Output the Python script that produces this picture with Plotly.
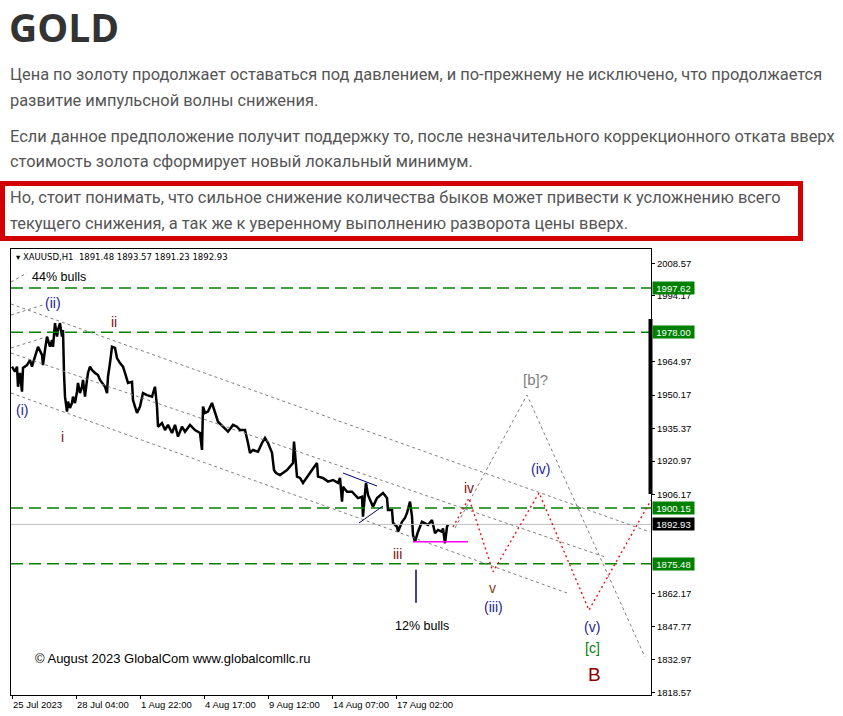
import plotly.graph_objects as go

# ---------------- data ----------------
bar_idx = [1, 4, 6, 7, 9, 11, 12, 16, 19, 21, 22, 26, 27, 31, 32, 34, 36, 37, 39, 41,
           42, 44, 46, 47, 49, 51, 52, 53, 54, 56, 57, 59, 61, 62, 64, 66, 67, 69, 71, 72,
           74, 76, 77, 79, 81, 84, 87, 89, 91, 94, 96, 97, 99, 101, 104, 106, 109, 112, 114, 117,
           121, 122, 124, 126, 129, 132, 136, 141, 144, 146, 147, 151, 154, 157, 161, 164, 167, 171, 174, 179,
           184, 189, 191, 192, 194, 197, 201, 204, 207, 212, 217, 222, 226, 229, 234, 237, 239, 242, 247, 251,
           254, 257, 261, 263, 265, 269, 276, 282, 283, 286, 289, 292, 296, 301, 306, 307, 312, 317, 322, 327,
           329, 331, 332, 336, 341, 347, 351, 352, 354, 355, 357, 362, 366, 372, 376, 377, 381, 382, 386, 387,
           391, 394, 396, 399, 401, 402, 404, 407, 411, 414, 417, 421, 422, 424, 427, 431, 432, 434, 436, 437]
close = [1962.8, 1960.6, 1962.8, 1953.9, 1960.0, 1951.7, 1962.2, 1963.5, 1965.7, 1962.8,
         1964.4, 1970.2, 1971.6, 1968.0, 1963.5, 1970.2, 1976.1, 1974.6, 1971.6, 1974.6,
         1971.6, 1982.1, 1976.1, 1979.0, 1982.1, 1976.1, 1979.0, 1960.0, 1949.5, 1942.9,
         1947.3, 1944.5, 1946.7, 1949.5, 1946.7, 1951.7, 1955.6, 1951.1, 1953.9, 1956.9,
         1949.5, 1956.9, 1960.0, 1962.8, 1961.3, 1960.0, 1959.1, 1956.9, 1955.6, 1953.9,
         1951.1, 1958.4, 1964.4, 1971.6, 1971.1, 1966.6, 1964.4, 1962.8, 1960.0, 1955.6,
         1956.1, 1948.0, 1945.1, 1942.3, 1945.1, 1951.1, 1950.2, 1949.5, 1953.9, 1945.1,
         1936.2, 1937.8, 1934.7, 1937.0, 1933.4, 1937.0, 1931.8, 1936.2, 1934.0, 1937.0,
         1934.7, 1933.4, 1925.9, 1945.1, 1942.3, 1942.9, 1946.7, 1942.3, 1938.4, 1936.2,
         1934.0, 1937.0, 1936.2, 1934.7, 1934.7, 1929.0, 1924.6, 1925.9, 1925.1, 1929.0,
         1931.2, 1929.0, 1924.6, 1917.0, 1915.7, 1914.8, 1917.0, 1920.1, 1929.6, 1914.1,
         1913.5, 1911.3, 1914.1, 1917.0, 1920.1, 1914.1, 1913.5, 1911.9, 1912.6, 1911.3,
         1913.5, 1903.0, 1909.6, 1907.4, 1907.4, 1904.6, 1905.2, 1896.4, 1906.8, 1911.3,
         1906.0, 1900.8, 1904.6, 1906.8, 1904.6, 1899.3, 1899.3, 1893.6, 1891.9, 1889.7,
         1894.1, 1895.8, 1898.0, 1903.0, 1896.4, 1888.2, 1885.3, 1889.7, 1894.1, 1893.4,
         1892.7, 1894.9, 1892.7, 1889.0, 1890.5, 1889.7, 1891.2, 1884.6, 1891.9, 1892.93]

# forecast paths
red_x = [442, 458, 482, 528, 578, 640]
red_y = [1891.8, 1904.6, 1871.9, 1906.9, 1855.0, 1903.7]
gray_x = [444, 516, 634]
gray_y = [1891.3, 1950.2, 1834.2]

# channel / fan lines: (x0, y0, x1, y1)
channel_lines = [
    (0, 1990.55, 639, 1889.57),
    (0, 1968.84, 594, 1878.50),
    (0, 1951.13, 556, 1862.56),
    (0, 1971.06, 32, 1975.50),
    (0, 1985.67, 32, 1990.10),
    (0, 2000.29, 16, 2004.27),
]
navy_lines = [
    (332, 1915.70, 366, 1909.94),
    (348, 1893.56, 372, 1901.08),
]
magenta_seg = (402, 457, 1885.2)
navy_vline = (405, 1872.8, 1858.2)

levels = [1997.62, 1978.00, 1900.15, 1875.48]
last_price = 1892.93

y_ticks = [2008.57, 1994.17, 1964.97, 1950.17, 1935.37, 1920.97, 1906.17,
           1862.17, 1847.77, 1832.97, 1818.57]
x_tickvals = [1, 65, 129, 193, 257, 321, 385]
x_ticktext = ["25 Jul 2023", "28 Jul 04:00", "1 Aug 22:00", "4 Aug 17:00",
              "9 Aug 12:00", "14 Aug 07:00", "17 Aug 02:00"]

# wave labels: (text, x, y, color, size)
wave_labels = [
    ("(ii)", 42, 1990.99, "#1a2396", 14),
    ("ii", 103, 1982.57, "#7f1010", 14),
    ("(i)", 11, 1943.6, "#1a2396", 14),
    ("i", 51, 1931.64, "#7f1010", 14),
    ("iii", 386, 1879.83, "#7f1010", 14),
    ("iv", 458, 1909.06, "#7f1010", 14),
    ("v", 481, 1864.77, "#8b3a10", 14),
    ("(iii)", 482, 1856.36, "#1a2396", 14),
    ("(iv)", 529, 1917.47, "#1a2396", 14),
    ("(v)", 581, 1847.5, "#1a2396", 14),
    ("[c]", 581, 1838.2, "#008000", 14),
    ("B", 583, 1826.24, "#8b0000", 19),
    ("[b]?", 524, 1956.89, "#808080", 15),
    ("44% bulls", 48, 2002.5, "#000000", 12.5),
    ("12% bulls", 411, 1847.94, "#000000", 12.5),
]

title = "GOLD"
paragraphs = [
    "Цена по золоту продолжает оставаться под давлением, и по-прежнему не исключено, что продолжается",
    "развитие импульсной волны снижения.",
    "Если данное предположение получит поддержку то, после незначительного коррекционного отката вверх",
    "стоимость золота сформирует новый локальный минимум.",
    "Но, стоит понимать, что сильное снижение количества быков может привести к усложнению всего",
    "текущего снижения, а так же к уверенному выполнению разворота цены вверх.",
]
para_y = [74, 100, 136, 161, 197, 223]

# ---------------- layout geometry ----------------
W, H = 843, 716
PL, PR, PT, PB = 11, 651, 249, 695
X_RANGE = [0, 640]
Y_RANGE = [1817.38, 2014.90]


def pp(x, y):
    return (x - PL) / (PR - PL), (PB - y) / (PB - PT)


fig = go.Figure()

# price
fig.add_trace(go.Scatter(x=bar_idx, y=close, mode="lines",
                         line=dict(color="black", width=2.5), hoverinfo="skip"))

# levels
for lv in levels:
    fig.add_trace(go.Scatter(x=X_RANGE, y=[lv, lv], mode="lines",
                             line=dict(color="#008000", width=1.5, dash="12px,6px"), hoverinfo="skip"))
fig.add_trace(go.Scatter(x=X_RANGE, y=[last_price, last_price], mode="lines",
                         line=dict(color="#c0c0c0", width=1), hoverinfo="skip"))

for (x0, y0, x1, y1) in channel_lines:
    fig.add_trace(go.Scatter(x=[x0, x1], y=[y0, y1], mode="lines",
                             line=dict(color="#808080", width=1, dash="3px,3px"), hoverinfo="skip"))
for (x0, y0, x1, y1) in navy_lines:
    fig.add_trace(go.Scatter(x=[x0, x1], y=[y0, y1], mode="lines",
                             line=dict(color="#000080", width=1), hoverinfo="skip"))

fig.add_trace(go.Scatter(x=[magenta_seg[0], magenta_seg[1]], y=[magenta_seg[2]] * 2, mode="lines",
                         line=dict(color="#ff00ff", width=1.5), hoverinfo="skip"))
fig.add_trace(go.Scatter(x=[navy_vline[0]] * 2, y=[navy_vline[1], navy_vline[2]], mode="lines",
                         line=dict(color="#000080", width=1.5), hoverinfo="skip"))

fig.add_trace(go.Scatter(x=gray_x, y=gray_y, mode="lines",
                         line=dict(color="#808080", width=1, dash="3px,3px"), hoverinfo="skip"))
fig.add_trace(go.Scatter(x=red_x, y=red_y, mode="lines",
                         line=dict(color="#ff0000", width=1.3, dash="2px,3px"), hoverinfo="skip"))

annotations = []
for (t, x, y, c, s) in wave_labels:
    annotations.append(dict(x=x, y=y, xref="x", yref="y", text=t, showarrow=False,
                            font=dict(family="Liberation Sans, Arial", size=s, color=c)))

annotations.append(dict(x=22, y=1833.33, xref="x", yref="y", xanchor="left",
                        text="© August 2023 GlobalCom www.globalcomllc.ru", showarrow=False,
                        font=dict(family="Liberation Sans, Arial", size=13, color="black")))

# x tick labels, left-aligned at their tick like the terminal does
_, ly = pp(0, 704)
for v, t in zip(x_tickvals, x_ticktext):
    annotations.append(dict(x=v, y=ly, xref="x", yref="paper", xanchor="left", yanchor="middle",
                            xshift=-1, text=t, showarrow=False,
                            font=dict(family="Liberation Sans, Arial", size=9.5, color="black")))

hx, hy = pp(14, 257)
annotations.append(dict(x=hx, y=hy, xref="paper", yref="paper", xanchor="left", yanchor="middle",
                        text="▾ XAUUSD,H1  1891.48 1893.57 1891.23 1892.93", showarrow=False,
                        font=dict(family="DejaVu Sans", size=8.5, color="black")))

# price boxes
for lv in levels:
    annotations.append(dict(x=1, y=lv, xref="paper", yref="y", xanchor="left", yanchor="middle",
                            xshift=1, text=f"{lv:.2f}", showarrow=False, bgcolor="#008000",
                            width=39, height=10, borderpad=1,
                            font=dict(family="Liberation Sans, Arial", size=9.5, color="white")))
annotations.append(dict(x=1, y=last_price, xref="paper", yref="y", xanchor="left", yanchor="middle",
                        xshift=1, text=f"{last_price:.2f}", showarrow=False, bgcolor="#000000",
                        width=39, height=10, borderpad=1,
                        font=dict(family="Liberation Sans, Arial", size=9.5, color="white")))

# page text
gx, gy = pp(7, 26)
annotations.append(dict(x=gx, y=gy, xref="paper", yref="paper", xanchor="left", yanchor="middle",
                        text=f"<b>{title}</b>", showarrow=False,
                        font=dict(family="Open Sans", size=39, color="#333333")))
for t, yy in zip(paragraphs, para_y):
    ax, ay = pp(8, yy)
    annotations.append(dict(x=ax, y=ay, xref="paper", yref="paper", xanchor="left", yanchor="middle",
                            text=t, showarrow=False,
                            font=dict(family="Roboto", size=16.4, color="#555555")))

shapes = []
x0, y0 = pp(2.5, 238.5)
x1, y1 = pp(800.5, 183.5)
shapes.append(dict(type="rect", xref="paper", yref="paper", x0=x0, y0=y0, x1=x1, y1=y1,
                   line=dict(color="#d40000", width=5)))
bx, by0 = pp(650.5, 494)
_, by1 = pp(650.5, 319)
shapes.append(dict(type="line", xref="paper", yref="paper", x0=bx, x1=bx, y0=by0, y1=by1,
                   line=dict(color="black", width=4)))

fig.update_layout(
    width=W, height=H,
    margin=dict(l=PL, r=W - PR, t=PT, b=H - PB, autoexpand=False),
    paper_bgcolor="white", plot_bgcolor="white",
    showlegend=False,
    annotations=annotations,
    shapes=shapes,
    xaxis=dict(range=X_RANGE, tickvals=x_tickvals, showticklabels=False, automargin=False,
               ticks="outside", ticklen=3, tickcolor="black", showgrid=False, zeroline=False,
               showline=True, mirror=True, linecolor="black", linewidth=1),
    yaxis=dict(range=Y_RANGE, side="right", tickvals=y_ticks, automargin=False,
               ticktext=[f"{v:.2f}" for v in y_ticks],
               ticks="outside", ticklen=3, tickcolor="black", showgrid=False, zeroline=False,
               showline=True, mirror=True, linecolor="black", linewidth=1,
               tickfont=dict(family="Liberation Sans, Arial", size=9.5, color="black")),
)

fig.write_html("out.html", config={"displayModeBar": False},
               post_script="document.body.style.margin='0';")
